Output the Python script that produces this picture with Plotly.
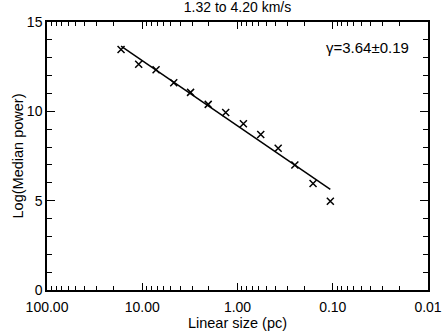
import plotly.graph_objects as go

# data
size_pc = [16.7, 10.9, 7.16, 4.67, 3.11, 2.03, 1.33, 0.867, 0.570, 0.374, 0.250, 0.161, 0.106]
log_power = [13.46, 12.63, 12.33, 11.60, 11.06, 10.39, 9.93, 9.31, 8.70, 7.93, 7.00, 5.96, 4.97]

# fitted power law, end points
fit_size = [16.7, 0.106]
fit_power = [13.65, 5.63]

gamma_text = "γ=3.64±0.19"

font = "Liberation Sans, Arial, sans-serif"

fig = go.Figure()

fig.add_trace(go.Scatter(x=fit_size, y=fit_power, mode='lines',
                         line=dict(color='black', width=1.5), showlegend=False))

fig.add_trace(go.Scatter(x=size_pc, y=log_power, mode='markers',
                         marker=dict(symbol='x-thin', size=7, color='black',
                                     line=dict(color='black', width=1.5)),
                         showlegend=False))

fig.add_annotation(text=gamma_text, xref='paper', yref='paper', x=0.955, y=0.905,
                   xanchor='right', yanchor='middle', showarrow=False,
                   font=dict(family=font, size=15, color='black'))

fig.update_layout(
    width=443, height=331,
    margin=dict(l=47, r=15, t=22, b=41, autoexpand=False),
    paper_bgcolor='white', plot_bgcolor='white',
    font=dict(family=font, size=14, color='black'),
    title=dict(text='1.32 to 4.20 km/s', x=0.5, xref='paper', xanchor='center',
               y=1, yref='container', yanchor='top', pad=dict(t=2),
               font=dict(family=font, size=14, color='black')),
    xaxis=dict(type='log', range=[2, -2], dtick=1, tickformat='.2f',
               ticks='inside', ticklen=7, tickcolor='black', tickwidth=1.2,
               ticklabelstandoff=3,
               showline=True, linecolor='black', linewidth=1.5, mirror='allticks',
               showgrid=False, zeroline=False, automargin=False,
               minor=dict(ticks='inside', ticklen=4, dtick='D1', tickcolor='black',
                          tickwidth=1.2, showgrid=False),
               title=dict(text='Linear size (pc)', standoff=0, font=dict(size=14.5))),
    yaxis=dict(range=[0, 15], dtick=5,
               ticks='inside', ticklen=8, tickcolor='black', tickwidth=1.2,
               showline=True, linecolor='black', linewidth=1.5, mirror='allticks',
               showgrid=False, zeroline=False, automargin=False,
               minor=dict(ticks='inside', ticklen=5, dtick=1, tickcolor='black',
                          tickwidth=1.2, showgrid=False),
               title=dict(text='Log(Median power)', standoff=0, font=dict(size=14.5))),
)

# the page's body has an 8px default margin; drop it so the figure sits at the corner
fig.write_html("out.html", config={'displayModeBar': False},
               post_script="document.body.style.margin='0';")
